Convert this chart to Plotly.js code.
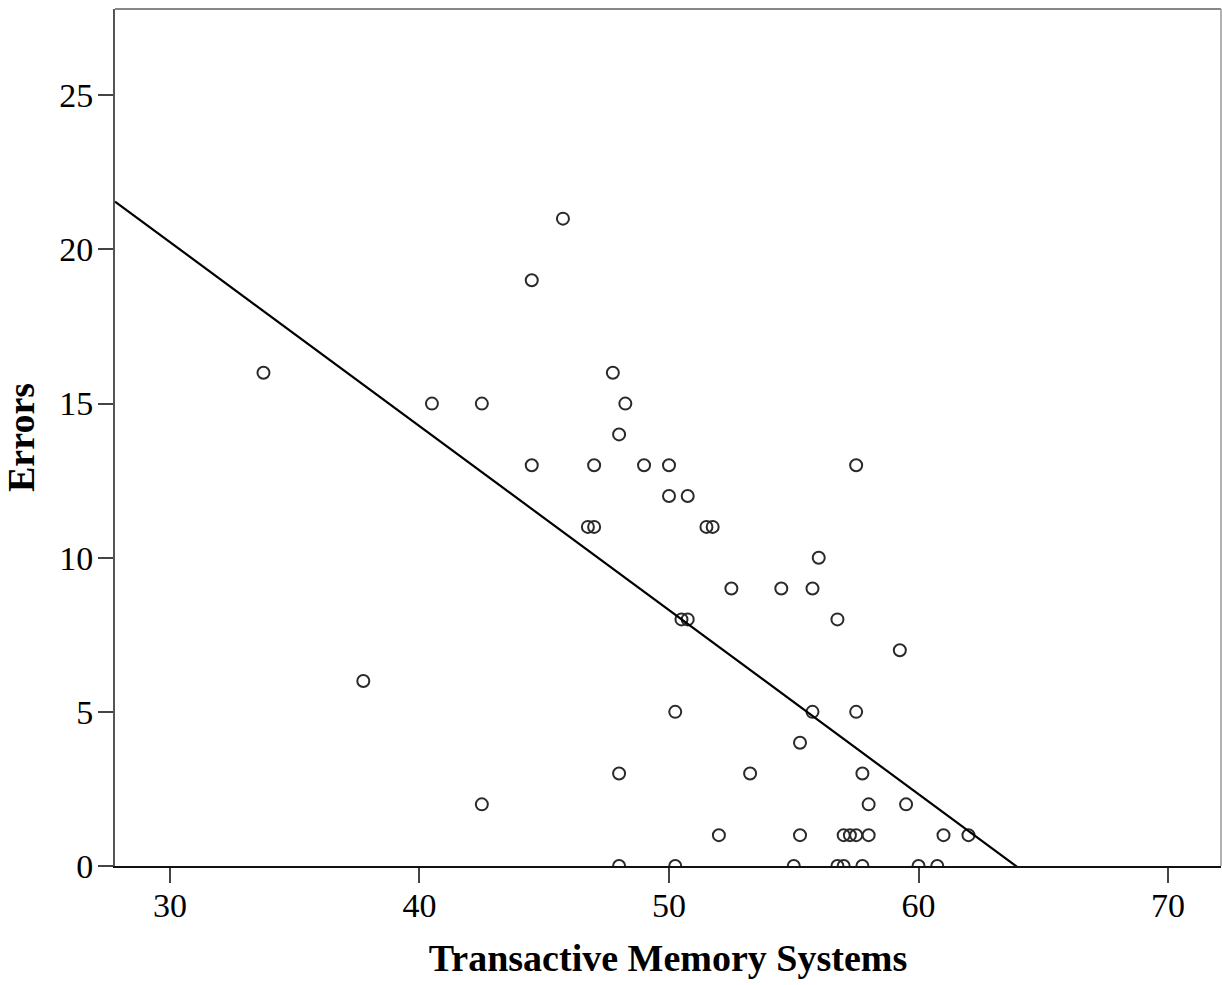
<!DOCTYPE html>
<html>
<head>
<meta charset="utf-8">
<script src="https://cdn.plot.ly/plotly-3.0.1.min.js"></script>
<style>html,body{margin:0;padding:0;background:#fff;}#chart{width:1222px;height:985px;}</style>
</head>
<body>
<div id="chart"></div>
<script>
// Transactive Memory Systems scores (x) and Errors (y)
const tms = [33.75, 37.75, 40.5, 42.5, 42.5, 44.5, 44.5, 45.75, 46.75, 47.0,
             47.0, 47.75, 48.0, 48.25, 48.0, 48.0, 49.0, 50.0, 50.0, 50.75,
             50.25, 50.25, 50.5, 50.75, 51.5, 51.75, 52.0, 52.5, 53.25, 54.5,
             55.0, 55.25, 55.25, 55.75, 55.75, 56.0, 56.75, 56.75, 57.0, 57.0,
             57.25, 57.5, 57.5, 57.5, 57.75, 57.75, 58.0, 58.0, 59.25, 59.5,
             60.0, 60.75, 61.0, 62.0];
const errors = [16, 6, 15, 15, 2, 19, 13, 21, 11, 11,
                13, 16, 14, 15, 3, 0, 13, 13, 12, 12,
                5, 0, 8, 8, 11, 11, 1, 9, 3, 9,
                0, 4, 1, 9, 5, 10, 8, 0, 0, 1,
                1, 1, 13, 5, 3, 0, 2, 1, 7, 2,
                0, 0, 1, 1];
// Linear fit line: errors = fitIntercept + fitSlope * tms
const fitIntercept = 38.15;
const fitSlope = -0.597;
const xTicks = [30, 40, 50, 60, 70];
const yTicks = [0, 5, 10, 15, 20, 25];

const xRange = [27.8, 72.12];
const yRange = [0, 27.8];
const fitX = [xRange[0], xRange[1]];
const fitY = fitX.map(v => fitIntercept + fitSlope * v);

const font = "'Liberation Serif', 'Times New Roman', serif";

const traces = [
  {
    x: tms, y: errors, type: 'scatter', mode: 'markers',
    marker: {symbol: 'circle-open', size: 12, color: '#2a2a2a', line: {width: 2, color: '#2a2a2a'}},
    cliponaxis: true, hoverinfo: 'x+y'
  },
  {
    x: fitX, y: fitY, type: 'scatter', mode: 'lines',
    line: {color: '#000', width: 2.2}, cliponaxis: true, hoverinfo: 'skip'
  }
];

const layout = {
  width: 1222, height: 985,
  margin: {l: 115, r: 1, t: 9, b: 119},
  paper_bgcolor: '#fff', plot_bgcolor: '#fff',
  showlegend: false,
  font: {family: font, color: '#000', size: 33},
  xaxis: {
    range: xRange, tickvals: xTicks, ticktext: xTicks.map(String),
    showgrid: false, zeroline: false,
    showline: true, linecolor: '#111', linewidth: 2,
    ticks: 'outside', ticklen: 15, tickwidth: 2, tickcolor: '#444',
    ticklabelstandoff: -7,
    tickfont: {family: font, size: 34, color: '#000'},
    title: {text: '<b>Transactive Memory Systems</b>', font: {family: font, size: 38, color: '#000'}, standoff: 22}
  },
  yaxis: {
    range: yRange, tickvals: yTicks, ticktext: yTicks.map(String),
    showgrid: false, zeroline: false,
    showline: true, linecolor: '#555', linewidth: 2,
    ticks: 'outside', ticklen: 15, tickwidth: 2, tickcolor: '#444',
    ticklabelstandoff: -2,
    tickfont: {family: font, size: 34, color: '#000'},
    title: {text: '<b>Errors</b>', font: {family: font, size: 38, color: '#000'}, standoff: 16}
  },
  shapes: [
    {type: 'line', xref: 'paper', yref: 'paper', x0: 0, x1: 1, y0: 1, y1: 1, line: {color: '#888', width: 2}},
    {type: 'line', xref: 'paper', yref: 'paper', x0: 1, x1: 1, y0: 0, y1: 1, line: {color: '#999', width: 1.5}}
  ]
};

Plotly.newPlot('chart', traces, layout, {displayModeBar: false, staticPlot: true});
</script>
</body>
</html>
